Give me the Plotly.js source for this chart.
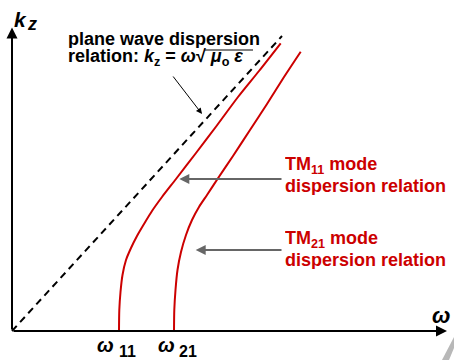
<!DOCTYPE html>
<html>
<head>
<meta charset="utf-8">
<script src="https://cdn.plot.ly/plotly-3.0.1.min.js"></script>
<style>html,body{margin:0;padding:0;background:#fff;}#chart{width:454px;height:360px;}</style>
</head>
<body>
<div id="chart"></div>
<script>
// Data (ω horizontal, k_z vertical; arbitrary units)
var planeOmega = [0, 270];
var planeKz    = [0, 295];

var tm11Omega = [107, 107.3, 108.5, 110.5, 114, 119, 125, 132, 140, 150, 164, 184, 204.5, 226, 247, 268.7];
var tm11Kz    = [0, 21, 39, 56, 71, 83, 95, 107, 120, 134, 152, 178, 205, 234, 260, 287.7];

var tm21Omega = [162, 162.3, 163.5, 165.5, 169, 174, 180, 187, 195, 205.5, 221, 238, 255, 272, 288.7];
var tm21Kz    = [0, 21, 41, 61, 79, 96, 111, 124, 136, 152, 175, 201, 227, 254, 279.3];

var cutoffOmega  = [107, 162];
var cutoffLabels = ['11', '21'];

var RED = '#cc0000';
var FONT = 'Liberation Sans, Arial, sans-serif';

var traces = [
  {x: planeOmega, y: planeKz, mode: 'lines', line: {color: '#000', width: 2, dash: '7px,5px'}},
  {x: tm11Omega, y: tm11Kz, mode: 'lines', line: {color: RED, width: 2, shape: 'spline', smoothing: 0.7}},
  {x: tm21Omega, y: tm21Kz, mode: 'lines', line: {color: RED, width: 2, shape: 'spline', smoothing: 0.7}}
];

function txt(x, y, text, size, color, anchor, h) {
  var a = {x: x, y: y, xref: 'x', yref: 'y', text: text, showarrow: false,
          xanchor: anchor || 'left', yanchor: 'middle',
          font: {family: FONT, size: size, color: color || '#000'}};
  if (h) { a.height = h; a.borderpad = 0; }
  return a;
}
function arrow(x, y, ax, ay, color, width, size) {
  return {x: x, y: y, ax: ax, ay: ay, xref: 'x', yref: 'y', axref: 'x', ayref: 'y',
          text: '', showarrow: true, arrowhead: 2, arrowsize: size || 1,
          arrowwidth: width, arrowcolor: color, standoff: 0, startstandoff: 0};
}

var annotations = [
  // axes with arrowheads
  arrow(435, 0, 0, 0, '#000', 2, 1.1),
  arrow(0, 303.5, 0, 0, '#000', 2, 1.1),
  txt(0, 312, '<b><i>k</i></b>', 21),
  txt(13, 307, '<b><i>z</i></b>', 18),
  txt(418, 16, '<b><i>ω</i></b>', 22),
  // plane wave label
  txt(55, 293, '<b>plane wave dispersion</b>', 18, '#000', 'left', 19),
  txt(55, 273.5, '<b>relation: <i>k</i><sub>z</sub> = <i>ω</i>√ <i>μ</i><sub>o</sub> <i>ε</i></b>', 18, '#000', 'left', 19),
  arrow(190, 217, 160, 256, '#000', 1, 1.2),
  // TM labels
  txt(272, 165.5, '<b>TM<sub>11</sub> mode</b>', 18, RED, 'left', 19),
  txt(272, 145.5, '<b>dispersion relation</b>', 18, RED, 'left', 19),
  txt(272, 91.5, '<b>TM<sub>21</sub> mode</b>', 18, RED, 'left', 19),
  txt(272, 71.5, '<b>dispersion relation</b>', 18, RED, 'left', 19),
  arrow(167.3, 152, 271, 152, '#666', 2, 1),
  arrow(183.7, 81, 271, 81, '#666', 2, 1)
];
// cutoff frequency labels
var omegaShift = [-3, 2.5];
var digitShift = [-2, 3];
for (var i = 0; i < cutoffOmega.length; i++) {
  annotations.push(txt(cutoffOmega[i] + omegaShift[i], -14, '<b><i>ω</i></b>', 20, '#000', 'right'));
  annotations.push(txt(cutoffOmega[i] + digitShift[i], -20, '<b>' + cutoffLabels[i] + '</b>', 16, '#000', 'left'));
}

var layout = {
  width: 454, height: 360,
  margin: {l: 0, r: 0, t: 0, b: 0},
  paper_bgcolor: '#fff', plot_bgcolor: '#fff',
  showlegend: false,
  xaxis: {range: [-12, 442], visible: false, fixedrange: true},
  yaxis: {range: [-29, 331], visible: false, fixedrange: true},
  annotations: annotations,
  shapes: [
    // radical overline
    {type: 'line', xref: 'x', yref: 'y', x0: 193, x1: 241, y0: 281, y1: 281,
     line: {color: '#000', width: 1}},
    // slide corner decoration
    {type: 'path', xref: 'x', yref: 'y',
     path: 'M 442 -6 L 442 -17 L 437 -29 L 430 -29 Z',
     fillcolor: '#b8b8b8', line: {width: 0}}
  ]
};

Plotly.newPlot('chart', traces, layout, {staticPlot: true, displayModeBar: false});
</script>
</body>
</html>
